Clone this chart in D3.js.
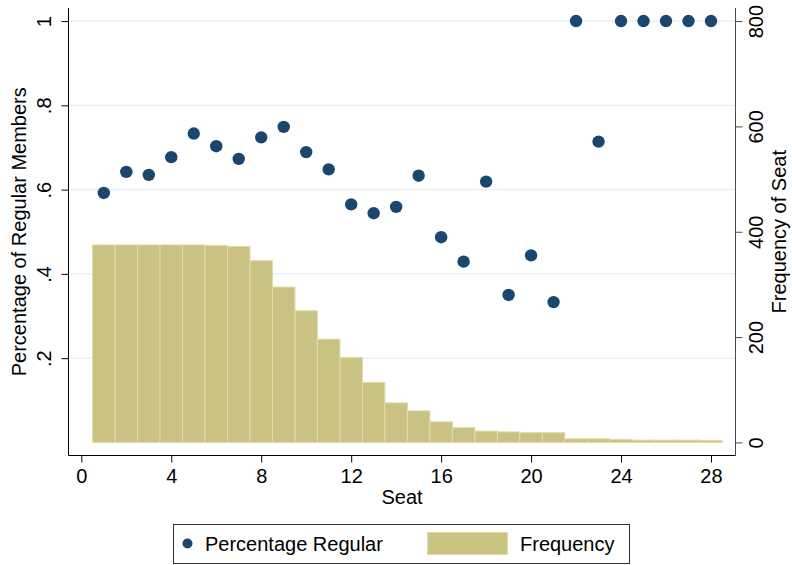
<!DOCTYPE html>
<html lang="en">
    <head>
        <meta charset="utf-8">
        <title>Seat chart</title>
        <script type="text/javascript" src="https://d3js.org/d3.v7.min.js"></script>
        <style type="text/css">
          body{
            margin: 0;
            background: #fff;
          }
          text{
            font-family: "Liberation Sans", Arial, sans-serif;
            fill: #000;
          }
          .ticklab{
            font-size: 20px;
          }
          .title{
            font-size: 20px;
          }
        </style>
    </head>
    <body>
      <div id="chart"></div>
        <script type="text/javascript">

            const w = 792;
            const h = 565;

            // seats 1..28
            const seats = d3.range(1, 29);

            // share of regular members per seat (left axis)
            const pctRegular = [0.592, 0.642, 0.635, 0.677, 0.733, 0.703, 0.673, 0.724, 0.749, 0.689,
                                0.648, 0.565, 0.544, 0.559, 0.633, 0.487, 0.429, 0.619, 0.350, 0.444,
                                0.333, 1, 0.714, 1, 1, 1, 1, 1];

            // frequency of seat (right axis)
            const frequency = [375, 375, 375, 375, 375, 374, 372, 345, 295, 250,
                               196, 161, 114, 75, 60, 39, 28, 21.5, 20, 18.5,
                               18.5, 7, 7, 5.7, 4.4, 4.4, 4.4, 3.8];

            const xTicks = [0, 4, 8, 12, 16, 20, 24, 28];
            const leftTicks = [0.2, 0.4, 0.6, 0.8, 1];
            const leftLabels = [".2", ".4", ".6", ".8", "1"];
            const rightTicks = [0, 200, 400, 600, 800];

            // plot region
            const pl = 68.5, pr = 735.5, pt = 8, pb = 455.5;

            const x = d3.scaleLinear().domain([-0.57, 29.09]).range([pl, pr]);
            const yL = d3.scaleLinear().domain([-0.031, 1.031]).range([pb, pt]);
            const yR = d3.scaleLinear().domain([-24.8, 824.8]).range([pb, pt]);

            const svg = d3.select("#chart")
                          .append("svg")
                          .attr("width", w)
                          .attr("height", h);

            //gridlines
            svg.selectAll(".grid")
               .data(leftTicks)
               .enter()
               .append("line")
               .attr("x1", pl)
               .attr("x2", pr)
               .attr("y1", d => yL(d))
               .attr("y2", d => yL(d))
               .attr("stroke", "#e6eef1")
               .attr("stroke-width", 1.2);

            //bars
            svg.selectAll(".bar")
               .data(seats)
               .enter()
               .append("rect")
               .attr("x", (d) => x(d - 0.5))
               .attr("y", (d, i) => yR(frequency[i]))
               .attr("width", d => x(d + 0.5) - x(d - 0.5))
               .attr("height", (d, i) => yR(0) - yR(frequency[i]))
               .attr("fill", "#cac282")
               .attr("stroke", "#e2dba6")
               .attr("stroke-width", 1);

            //dots
            svg.selectAll(".dot")
               .data(seats)
               .enter()
               .append("circle")
               .attr("cx", d => x(d))
               .attr("cy", (d, i) => yL(pctRegular[i]))
               .attr("r", 6.2)
               .attr("fill", "#1a476f");

            //left axis
            const leftAxis = svg.append("g")
               .attr("transform", `translate(${pl},0)`)
               .call(d3.axisLeft(yL).tickValues(leftTicks).tickSize(7)
                       .tickFormat((d, i) => leftLabels[i]));
            leftAxis.select(".domain").attr("d", `M0,${pt}V${pb}`).attr("stroke", "#000");
            leftAxis.selectAll(".tick line").attr("stroke", "#000");
            leftAxis.selectAll(".tick text")
               .attr("class", "ticklab")
               .attr("x", null).attr("dy", null)
               .attr("text-anchor", "middle")
               .attr("transform", "translate(-18,0) rotate(-90)");

            //right axis
            const rightAxis = svg.append("g")
               .attr("transform", `translate(${pr},0)`)
               .call(d3.axisRight(yR).tickValues(rightTicks).tickSize(7));
            rightAxis.select(".domain").attr("d", `M0,${pt}V${pb}`).attr("stroke", "#4a4a4a");
            rightAxis.selectAll(".tick line").attr("stroke", "#4a4a4a");
            rightAxis.selectAll(".tick text")
               .attr("class", "ticklab")
               .attr("x", null).attr("dy", null)
               .attr("text-anchor", "middle")
               .attr("transform", "translate(27,0) rotate(-90)");

            //bottom axis
            const bottomAxis = svg.append("g")
               .attr("transform", `translate(0,${pb})`)
               .call(d3.axisBottom(x).tickValues(xTicks).tickSize(7));
            bottomAxis.select(".domain").attr("d", `M${pl},0H${pr}`).attr("stroke", "#000");
            bottomAxis.selectAll(".tick line").attr("stroke", "#000");
            bottomAxis.selectAll(".tick text")
               .attr("class", "ticklab")
               .attr("y", 27).attr("dy", null);

            svg.selectAll("g").attr("font-family", null).attr("font-size", null);

            //titles
            const cy = (pt + pb) / 2;
            svg.append("text")
               .attr("class", "title")
               .attr("text-anchor", "middle")
               .attr("transform", `translate(26,${cy}) rotate(-90)`)
               .text("Percentage of Regular Members");

            svg.append("text")
               .attr("class", "title")
               .attr("text-anchor", "middle")
               .attr("transform", `translate(786,${cy}) rotate(-90)`)
               .text("Frequency of Seat");

            svg.append("text")
               .attr("class", "title")
               .attr("text-anchor", "middle")
               .attr("x", (pl + pr) / 2)
               .attr("y", 504)
               .text("Seat");

            //legend
            const lg = svg.append("g");
            lg.append("rect")
              .attr("x", 173.5).attr("y", 524.5)
              .attr("width", 456).attr("height", 39)
              .attr("fill", "#fff")
              .attr("stroke", "#333");
            lg.append("circle")
              .attr("cx", 187.5).attr("cy", 543.5).attr("r", 5)
              .attr("fill", "#1a476f");
            lg.append("text")
              .attr("class", "title")
              .attr("x", 205).attr("y", 551)
              .text("Percentage Regular");
            lg.append("rect")
              .attr("x", 427.5).attr("y", 532.5)
              .attr("width", 80).attr("height", 22)
              .attr("fill", "#cac282")
              .attr("stroke", "#e2dba6");
            lg.append("text")
              .attr("class", "title")
              .attr("x", 520).attr("y", 551)
              .text("Frequency");

        </script>
    </body>
</html>
